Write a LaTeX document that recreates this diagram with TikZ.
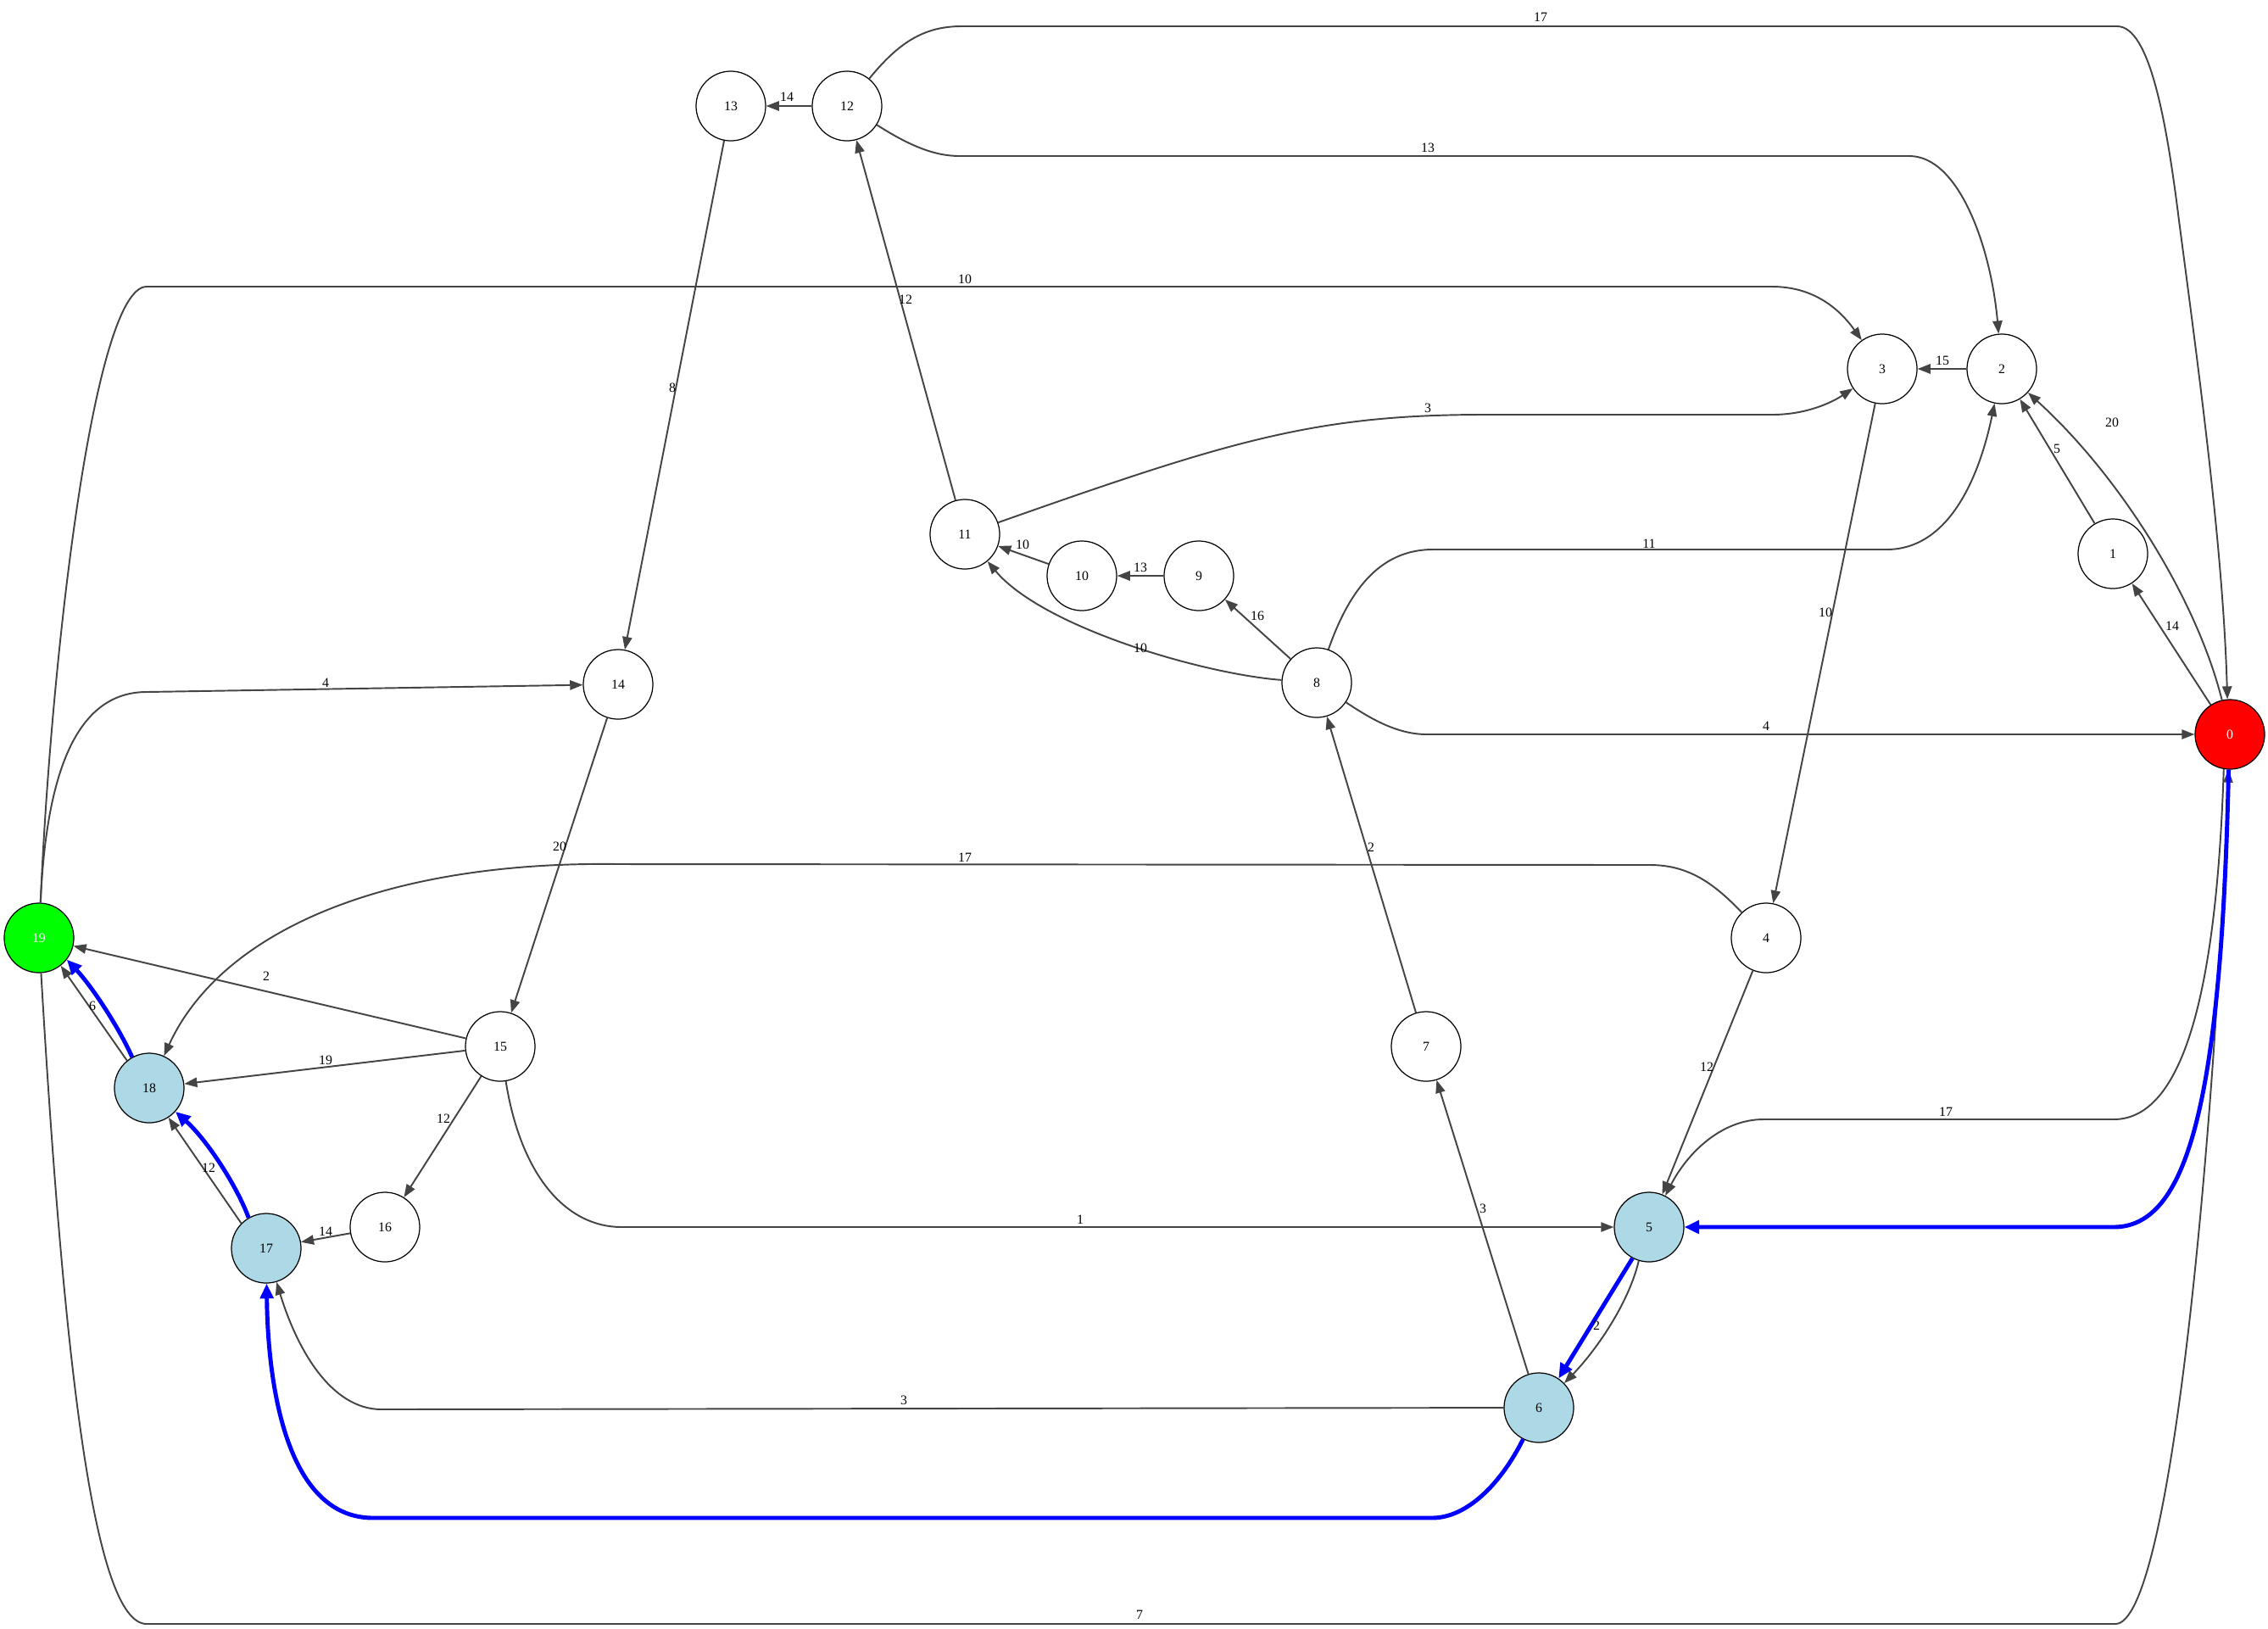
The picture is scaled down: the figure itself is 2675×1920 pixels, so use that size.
\documentclass[tikz,border=0pt]{standalone}
\usepackage{fontspec}
\setmainfont{Liberation Serif}
\usetikzlibrary{arrows.meta}
\definecolor{edgegray}{RGB}{68,68,68}
\definecolor{nodeblue}{RGB}{173,216,230}
\definecolor{nodegreen}{RGB}{0,255,0}
\definecolor{nodered}{RGB}{255,0,0}
\begin{document}
\begin{tikzpicture}[x=0.01cm,y=-0.01cm,
  vtx/.style={circle,draw=black,line width=0.35pt,minimum size=0.82cm,inner sep=0pt,fill=white,font=\fontsize{4.5}{5}\selectfont},
  e/.style={draw=edgegray,line width=0.55pt,-{Triangle[length=4.3pt,width=3.2pt]}},
  pe/.style={draw=blue,line width=1.4pt,-{Triangle[length=5pt,width=4.4pt]}},
  lbl/.style={font=\fontsize{4.5}{5}\selectfont,inner sep=0pt}]
\path[use as bounding box,fill=white] (0,0) rectangle (2675,1920);

% nodes
\node[vtx,fill=nodered,text=white] (n0) at (2630,866) {0};
\node[vtx] (n1) at (2492,653) {1};
\node[vtx] (n2) at (2361,435) {2};
\node[vtx] (n3) at (2220,435) {3};
\node[vtx] (n4) at (2083,1106) {4};
\node[vtx,fill=nodeblue] (n5) at (1945,1447) {5};
\node[vtx,fill=nodeblue] (n6) at (1815,1660) {6};
\node[vtx] (n7) at (1682,1234) {7};
\node[vtx] (n8) at (1553,805) {8};
\node[vtx] (n9) at (1414,679) {9};
\node[vtx] (n10) at (1276,679) {10};
\node[vtx] (n11) at (1138,630) {11};
\node[vtx] (n12) at (999,125) {12};
\node[vtx] (n13) at (862,125) {13};
\node[vtx] (n14) at (729,807) {14};
\node[vtx] (n15) at (590,1234) {15};
\node[vtx] (n16) at (454,1447) {16};
\node[vtx,fill=nodeblue] (n17) at (314,1472) {17};
\node[vtx,fill=nodeblue] (n18) at (176,1283) {18};
\node[vtx,fill=nodegreen,text=white] (n19) at (46,1106) {19};

% gray edges
\draw[e] (n12) .. controls (1060,50) and (1090,31) .. (1134,31) -- (2497,31) .. controls (2535,31) and (2555,140) .. (2570,260) .. controls (2595,450) and (2622,650) .. (n0.94);
\draw[e] (n12) -- (n13);
\draw[e] (n12) .. controls (1070,170) and (1100,184) .. (1132,184) -- (2252,184) .. controls (2310,184) and (2348,290) .. (n2);
\draw[e] (n19) .. controls (60,780) and (110,338) .. (173,338) -- (2090,338) .. controls (2140,338) and (2170,365) .. (n3);
\draw[e] (n19) .. controls (55,900) and (95,816) .. (173,816) -- (n14);
\draw[e] (n19) .. controls (75,1600) and (110,1915) .. (173,1915) -- (2495,1915) .. controls (2560,1915) and (2612,1350) .. (n0);
\draw[e] (n2) -- (n3);
\draw[e] (n0.103) .. controls (2591,707) and (2501,562) .. (n2);
\draw[e] (n1) -- (n2);
\draw[e] (n0) -- (n1);
\draw[e] (n11) .. controls (1450,520) and (1550,489) .. (1750,489) -- (2090,489) .. controls (2130,489) and (2160,475) .. (n3);
\draw[e] (n13) -- (n14);
\draw[e] (n11) -- (n12);
\draw[e] (n3) -- (n4);
\draw[e] (n8) .. controls (1590,700) and (1625,648) .. (1690,648) -- (2225,648) .. controls (2300,648) and (2335,560) .. (n2);
\draw[e] (n10) -- (n11);
\draw[e] (n9) -- (n10);
\draw[e] (n8) -- (n9);
\draw[e] (n8) .. controls (1420,795) and (1230,740) .. (n11);
\draw[e] (n8) .. controls (1620,850) and (1650,866) .. (1683,866) -- (n0);
\draw[e] (n14) -- (n15);
\draw[e] (n4) .. controls (2020,1040) and (1990,1020) .. (1946,1020) -- (730,1019) .. controls (450,1015) and (260,1100) .. (n18);
\draw[e] (n7) -- (n8);
\draw[e] (n15) -- (n19);
\draw[e] (n15) -- (n18);
\draw[e] (n15) -- (n16);
\draw[e] (n16) -- (n17);
\draw[e] (n15) .. controls (615,1390) and (670,1447) .. (733,1447) -- (n5);
\draw[e] (n4) -- (n5);
\draw[e] (n0.-100) .. controls (2615,1150) and (2580,1320) .. (2493,1320) -- (2080,1320) .. controls (2030,1320) and (1990,1360) .. (n5);
\draw[e] (n5.-107) .. controls (1920,1540) and (1880,1595) .. (n6.44);
\draw[e] (n6) -- (n7);
\draw[e] (n6) -- (450,1662) .. controls (390,1662) and (350,1590) .. (n17);
\draw[e] (n17.135) -- (n18.-57);
\draw[e] (n18.129) -- (n19.-52);

% blue path edges
\draw[pe] (n0.-92) .. controls (2620,1300) and (2580,1447) .. (2493,1447) -- (n5);
\draw[pe] (n5.-118) -- (n6.56);
\draw[pe] (n6) .. controls (1770,1750) and (1730,1790) .. (1689,1790) -- (440,1790) .. controls (340,1790) and (316,1640) .. (n17);
\draw[pe] (n17.120) .. controls (280,1400) and (245,1345) .. (n18.-42);
\draw[pe] (n18.119) .. controls (142,1215) and (110,1165) .. (n19.-38);

% edge labels
\node[lbl] (l1) at (1817,20) {17};
\node[lbl] (l2) at (928,114) {14};
\node[lbl] (l3) at (1684,174) {13};
\node[lbl] (l4) at (1138,329) {10};
\node[lbl] (l5) at (2291,425) {15};
\node[lbl] (l6) at (2491,498) {20};
\node[lbl] (l7) at (2426,529) {5};
\node[lbl] (l8) at (2562,738) {14};
\node[lbl] (l9) at (1684,481) {3};
\node[lbl] (l10) at (793,457) {8};
\node[lbl] (l11) at (1068,353) {12};
\node[lbl] (l12) at (2153,722) {10};
\node[lbl] (l13) at (1945,641) {11};
\node[lbl] (l14) at (1206,642) {10};
\node[lbl] (l15) at (1345,669) {13};
\node[lbl] (l16) at (1483,726) {16};
\node[lbl] (l17) at (1345,764) {10};
\node[lbl] (l18) at (2083,856) {4};
\node[lbl] (l19) at (384,805) {4};
\node[lbl] (l20) at (660,998) {20};
\node[lbl] (l21) at (1138,1011) {17};
\node[lbl] (l22) at (1617,999) {2};
\node[lbl] (l23) at (314,1151) {2};
\node[lbl] (l24) at (384,1250) {19};
\node[lbl] (l25) at (523,1319) {12};
\node[lbl] (l26) at (384,1452) {14};
\node[lbl] (l27) at (246,1377) {12};
\node[lbl] (l28) at (109,1186) {6};
\node[lbl] (l29) at (1274,1438) {1};
\node[lbl] (l30) at (2013,1258) {12};
\node[lbl] (l31) at (2295,1311) {17};
\node[lbl] (l32) at (1883,1563) {2};
\node[lbl] (l33) at (1749,1425) {3};
\node[lbl] (l34) at (1066,1651) {3};
\node[lbl] (l35) at (1344,1904) {7};
\end{tikzpicture}
\end{document}
